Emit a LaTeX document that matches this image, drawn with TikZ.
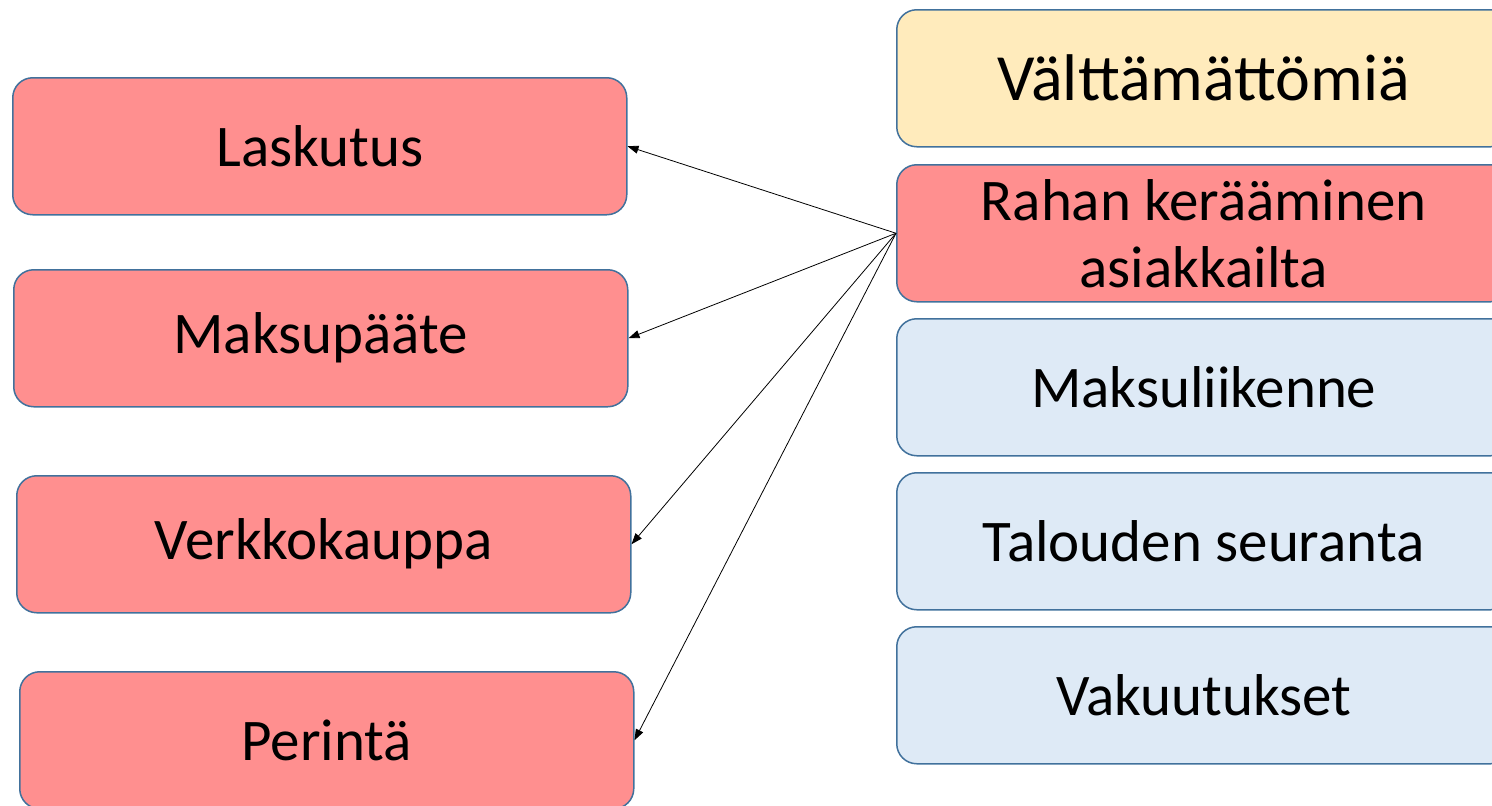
\documentclass[tikz,border=0pt]{standalone}
\usepackage{fontspec}
\setmainfont{Carlito}
\usetikzlibrary{arrows.meta}
\definecolor{boxred}{HTML}{FF8F8F}
\definecolor{boxyellow}{HTML}{FFEBBC}
\definecolor{boxblue}{HTML}{DEEAF6}
\definecolor{boxline}{HTML}{41719C}
\tikzset{
  box/.style={draw=boxline, line width=1.5pt, rounded corners=20pt, minimum width=614pt, minimum height=137pt, inner sep=0pt, anchor=north west, font=\fontsize{59}{67}\selectfont, align=center},
  conn/.style={line width=0.8pt, -{Triangle[length=11pt,width=8pt]}}
}
\begin{document}
\begin{tikzpicture}[x=1pt,y=-1pt]
\useasboundingbox (0,0) rectangle (1492,806);
\clip (0,0) rectangle (1492,806);
\node[box, fill=boxred] (lask) at (12,77) {Laskutus};
\node[box, fill=boxred] (maks) at (13,269) {Maksupääte};
\node[box, fill=boxred] (verk) at (16,475) {Verkkokauppa};
\node[box, fill=boxred] (peri) at (19,671) {Perintä};
\node[box, fill=boxyellow, font=\fontsize{66}{74}\selectfont] (valt) at (896,9) {Välttämättömiä};
\node[box, fill=boxred] (raha) at (896,164) {Rahan kerääminen\\asiakkailta};
\node[box, fill=boxblue] (mlii) at (896,318) {Maksuliikenne};
\node[box, fill=boxblue] (talo) at (896,472) {Talouden seuranta};
\node[box, fill=boxblue] (vaku) at (896,626) {Vakuutukset};
\draw[conn] (raha.west) -- (lask.east);
\draw[conn] (raha.west) -- (maks.east);
\draw[conn] (raha.west) -- (verk.east);
\draw[conn] (raha.west) -- (peri.east);
\end{tikzpicture}
\end{document}
